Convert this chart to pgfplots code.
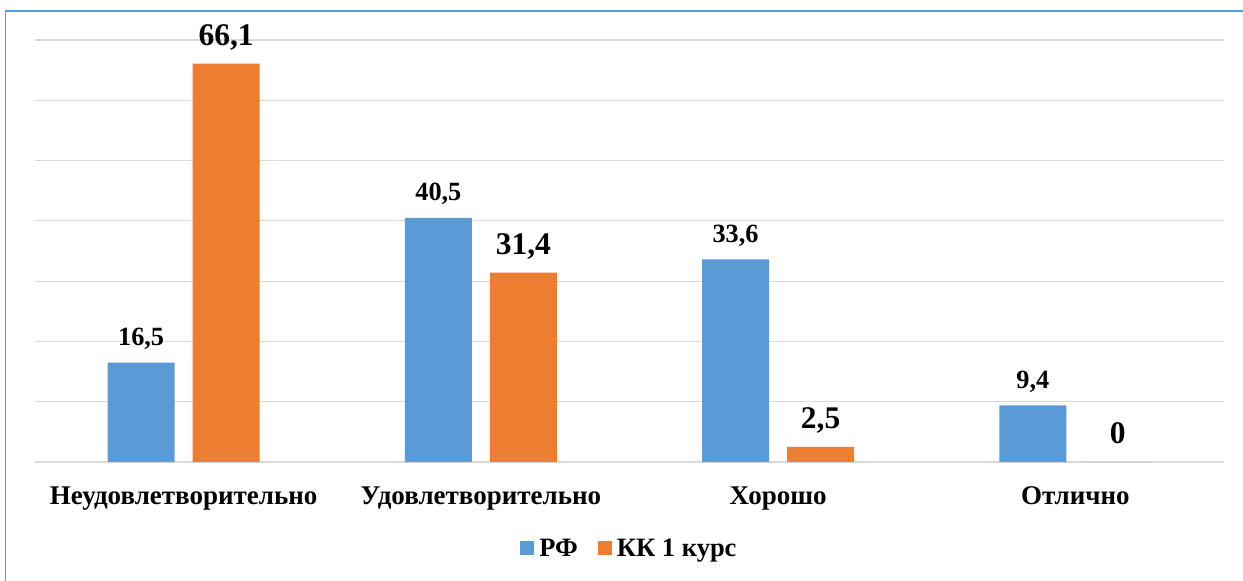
\documentclass[border=0pt]{standalone}
\usepackage{fontspec}
\setmainfont{Liberation Serif}
\usepackage{pgfplots}
\pgfplotsset{compat=1.18}
\definecolor{rfblue}{HTML}{5B9BD5}
\definecolor{kkorange}{HTML}{ED7D31}
\definecolor{gridgray}{HTML}{D9D9D9}
\begin{document}
\begin{tikzpicture}[x=1pt,y=1pt]
\useasboundingbox (0,0) rectangle (1243,581);
\fill[white] (0,0) rectangle (1243,581);
\draw[color=rfblue, line width=1.5pt] (5.5,0) -- (5.5,570) -- (1243,570);
\begin{axis}[
  at={(35pt,119pt)}, anchor=south west,
  scale only axis, width=1189pt, height=422pt,
  xmin=-0.5, xmax=3.5, ymin=0, ymax=70,
  ytick={0,10,...,70}, yticklabels={},
  ymajorgrids, grid style={draw=gridgray, line width=1.2pt},
  axis line style={draw=none},
  major tick length=0pt,
  xtick={0,1,2,3},
  xticklabels={Неудовлетворительно,Удовлетворительно,Хорошо,Отлично},
  xticklabel style={font=\bfseries\fontsize{27}{30}\selectfont, anchor=base, yshift=-42pt},
  ybar=18pt, bar width=67pt,
  clip=false,
  /pgf/number format/.cd, use comma, fixed, precision=1, assume math mode=true,
  /pgfplots/.cd,
  legend columns=2,
  legend style={at={(axis description cs:0.5,-0.204)}, anchor=center, draw=none,
    font=\bfseries\fontsize{26.5}{30}\selectfont,
    /tikz/every odd column/.append style={column sep=3pt},
    /tikz/every even column/.append style={column sep=18pt},
    inner sep=0pt},
  legend image code/.code={\fill[#1] (0pt,-7pt) rectangle (14pt,7pt);},
]
\addplot+[draw=none, fill=rfblue, nodes near coords,
  every node near coord/.append style={font=\bfseries\fontsize{26.3}{30}\selectfont, anchor=base, yshift=17pt, black}]
  coordinates {(0,16.5) (1,40.5) (2,33.6) (3,9.4)};
\addplot+[draw=none, fill=kkorange, nodes near coords,
  every node near coord/.append style={font=\bfseries\fontsize{31.5}{34}\selectfont, anchor=base, yshift=18pt, black}]
  coordinates {(0,66.1) (1,31.4) (2,2.5) (3,0)};
\legend{РФ, КК 1 курс}
\end{axis}
\end{tikzpicture}
\end{document}
